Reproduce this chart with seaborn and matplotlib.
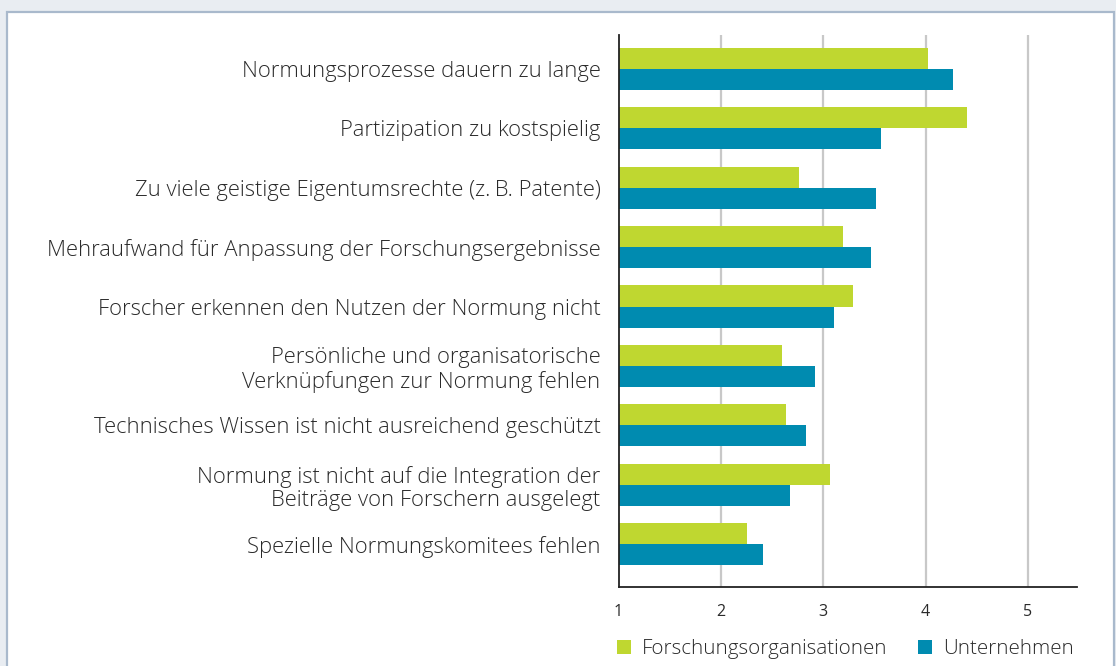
import pandas as pd
import seaborn as sns
import matplotlib.pyplot as plt
from matplotlib.patches import Rectangle

# data
categories = [
    'Normungsprozesse dauern zu lange',
    'Partizipation zu kostspielig',
    'Zu viele geistige Eigentumsrechte (z.\u2009B. Patente)',
    'Mehraufwand für Anpassung der Forschungsergebnisse',
    'Forscher erkennen den Nutzen der Normung nicht',
    'Persönliche und organisatorische\nVerknüpfungen zur Normung fehlen',
    'Technisches Wissen ist nicht ausreichend geschützt',
    'Normung ist nicht auf die Integration der\nBeiträge von Forschern ausgelegt',
    'Spezielle Normungskomitees fehlen',
]
forschung = [4.02, 4.41, 2.76, 3.19, 3.29, 2.60, 2.64, 3.07, 2.26]
unternehmen = [4.27, 3.56, 3.52, 3.47, 3.11, 2.92, 2.83, 2.68, 2.41]
series = ['Forschungsorganisationen', 'Unternehmen']
x_ticks = [1, 2, 3, 4, 5]

colors = ['#BFD730', '#008BB0']
text_color = '#2A2A2A'

df = pd.DataFrame({
    'Kategorie': categories * 2,
    'Wert': forschung + unternehmen,
    'Gruppe': [series[0]] * len(categories) + [series[1]] * len(categories),
})

sns.set_theme(style='white')
plt.rcParams['font.family'] = ['Open Sans', 'DejaVu Sans']

fig = plt.figure(figsize=(11.16, 6.66), dpi=100, facecolor='#E9EDF2')
# white panel with thin border, kept behind the axes
panel = Rectangle((7 / 1116, -0.01), 1107 / 1116, 1 - 12 / 666 + 0.01,
                  transform=fig.transFigure, facecolor='white',
                  edgecolor='#A9B9CC', linewidth=1.6, zorder=-10)
fig.add_artist(panel)

ax = fig.add_axes([618.5 / 1116, 1 - 587 / 666, (1077 - 618.5) / 1116, (587 - 35) / 666])
ax.set_facecolor('none')

sns.barplot(data=df, y='Kategorie', x='Wert', hue='Gruppe', orient='h',
            palette=colors, width=0.71, gap=0, saturation=1, linewidth=0,
            ax=ax, legend=False)

ax.set_xlim(1, 5.48)
ax.set_ylim(8.72, -0.57)
ax.set_xticks(x_ticks)
ax.set_xticklabels([str(t) for t in x_ticks], fontsize=11.5, color=text_color)
ax.tick_params(axis='x', length=0, pad=12)
ax.tick_params(axis='y', length=0, pad=13, labelsize=15.8, labelcolor=text_color)
for lbl in ax.get_yticklabels():
    lbl.set_fontweight('light')
    lbl.set_linespacing(1.15)
ax.set_xlabel('')
ax.set_ylabel('')

for v in x_ticks[1:]:
    ax.axvline(v, color='#C8C8C8', linewidth=1.6, zorder=0)

for s in ['top', 'right']:
    ax.spines[s].set_visible(False)
for s in ['left', 'bottom']:
    ax.spines[s].set_color('#222222')
    ax.spines[s].set_linewidth(1.3)
    ax.spines[s].set_zorder(5)

# legend below the axis
handles = [Rectangle((0, 0), 1, 1, facecolor=c, edgecolor='none') for c in colors]
fig.legend(handles, series, loc='center left', bbox_to_anchor=(598 / 1116, 1 - 649 / 666),
           ncol=2, frameon=False, handlelength=0.7, handleheight=0.7,
           handletextpad=0.55, columnspacing=1.45, labelcolor=text_color,
           prop={'weight': 'light', 'size': 14.8})

plt.savefig('out.png', dpi=100, facecolor=fig.get_facecolor())
